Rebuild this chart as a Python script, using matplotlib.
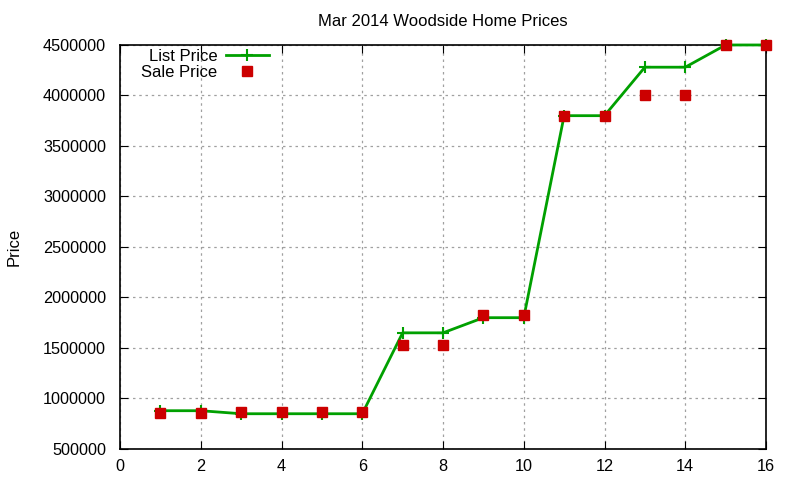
import matplotlib
matplotlib.use("Agg")
import matplotlib.pyplot as plt

# listing index and prices
homes = [1, 2, 3, 4, 5, 6, 7, 8, 9, 10, 11, 12, 13, 14, 15, 16]
list_price = [879000, 879000, 849000, 849000, 849000, 849000, 1650000, 1650000,
              1800000, 1800000, 3800000, 3800000, 4280000, 4280000, 4500000, 4500000]
sale_price = [860000, 860000, 866000, 866000, 866000, 866000, 1530000, 1530000,
              1825000, 1825000, 3800000, 3800000, 4000000, 4000000, 4500000, 4500000]

plt.rcParams['font.family'] = ['Liberation Sans', 'DejaVu Sans']

fig = plt.figure(figsize=(8, 4.8), dpi=100)
ax = fig.add_axes([0.15, 0.0646, 0.8075, 0.8417])

ax.plot(homes, list_price, color='#00a000', lw=2, marker='+', ms=9, mew=1.5,
        label='List Price', clip_on=False, zorder=3)
ax.plot(homes, sale_price, color='#cc0000', lw=0, marker='s', ms=7,
        label='Sale Price', clip_on=False, zorder=4)

ax.set_xlim(0, 16)
ax.set_ylim(500000, 4500000)
ax.set_xticks(range(0, 17, 2))
ax.set_yticks(range(500000, 4500001, 500000))
ax.ticklabel_format(style='plain', axis='y')
ax.tick_params(direction='in', top=True, right=True, labelsize=11.7, length=6)
ax.tick_params(axis='y', pad=10)
ax.tick_params(axis='x', pad=7)
ax.grid(True, color='#a0a0a0', linestyle=(0, (2, 3)), lw=0.9)
for s in ax.spines.values():
    s.set_linewidth(1.2)

ax.set_title('Mar 2014 Woodside Home Prices', fontsize=12, pad=14)
ax.set_ylabel('Price', fontsize=12)
ax.yaxis.set_label_coords(-0.153, 0.5)

ax.legend(loc='upper left', frameon=False, markerfirst=False, fontsize=12,
          handlelength=2.6, handletextpad=0.5, borderaxespad=0, borderpad=0,
          labelspacing=0.05, bbox_to_anchor=(0.033, 0.99))

fig.savefig('out.png', dpi=100)
